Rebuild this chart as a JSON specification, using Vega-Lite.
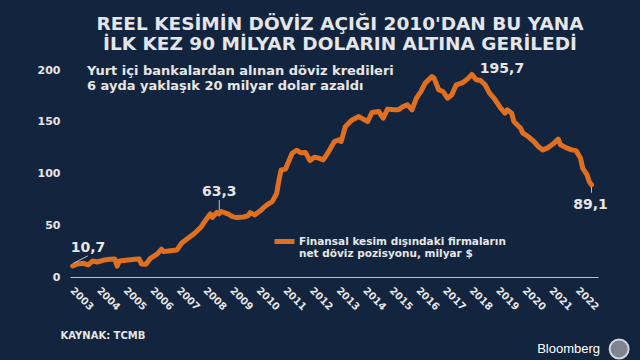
{
  "$schema": "https://vega.github.io/schema/vega-lite/v6.json",
  "width": 528,
  "height": 207,
  "autosize": {"type": "none"},
  "padding": {"left": 70, "top": 70, "right": 42, "bottom": 83},
  "background": "#13243e",
  "config": {"view": {"stroke": null}, "font": "DejaVu Sans", "axis": {"labelOverlap": false, "labelSeparation": 0}},
  "title": {
    "text": ["REEL KESİMİN DÖVİZ AÇIĞI 2010'DAN BU YANA", "İLK KEZ 90 MİLYAR DOLARIN ALTINA GERİLEDİ"],
    "anchor": "middle",
    "frame": "group",
    "fontSize": 18.5,
    "font": "DejaVu Sans",
    "fontWeight": "bold",
    "color": "#e4e6ea",
    "lineHeight": 20.5,
    "offset": 10,
    "dx": 6,
    "dy": 2
  },
  "datasets": {
    "series": [
      {"date": "2002-12-01", "value": 10.7},
      {"date": "2003-02-01", "value": 12.6},
      {"date": "2003-05-01", "value": 13.2},
      {"date": "2003-07-01", "value": 11.6},
      {"date": "2003-09-01", "value": 15.5},
      {"date": "2003-11-01", "value": 14.5},
      {"date": "2004-02-01", "value": 16.4},
      {"date": "2004-05-01", "value": 17.1},
      {"date": "2004-07-01", "value": 17.4},
      {"date": "2004-08-01", "value": 10.5},
      {"date": "2004-09-01", "value": 15.5},
      {"date": "2005-01-01", "value": 16.4},
      {"date": "2005-04-01", "value": 17.1},
      {"date": "2005-06-01", "value": 17.4},
      {"date": "2005-07-01", "value": 12.6},
      {"date": "2005-09-01", "value": 12.3},
      {"date": "2005-11-01", "value": 18.1},
      {"date": "2006-02-01", "value": 22.0},
      {"date": "2006-04-01", "value": 26.8},
      {"date": "2006-05-01", "value": 24.5},
      {"date": "2006-08-01", "value": 25.4},
      {"date": "2006-11-01", "value": 26.1},
      {"date": "2007-01-01", "value": 32.6},
      {"date": "2007-04-01", "value": 37.4},
      {"date": "2007-07-01", "value": 42.3},
      {"date": "2007-10-01", "value": 48.6},
      {"date": "2007-12-01", "value": 55.1},
      {"date": "2008-02-01", "value": 61.0},
      {"date": "2008-03-01", "value": 57.5},
      {"date": "2008-05-01", "value": 62.5},
      {"date": "2008-06-01", "value": 61.0},
      {"date": "2008-07-01", "value": 63.3},
      {"date": "2008-10-01", "value": 60.9},
      {"date": "2008-12-01", "value": 58.3},
      {"date": "2009-02-01", "value": 57.4},
      {"date": "2009-05-01", "value": 58.0},
      {"date": "2009-07-01", "value": 59.0},
      {"date": "2009-08-01", "value": 62.2},
      {"date": "2009-10-01", "value": 60.0},
      {"date": "2010-01-01", "value": 64.8},
      {"date": "2010-02-01", "value": 67.0},
      {"date": "2010-04-01", "value": 70.3},
      {"date": "2010-06-01", "value": 72.8},
      {"date": "2010-08-01", "value": 80.9},
      {"date": "2010-09-01", "value": 93.8},
      {"date": "2010-10-01", "value": 103.5},
      {"date": "2010-12-01", "value": 104.2},
      {"date": "2011-01-01", "value": 110.0},
      {"date": "2011-03-01", "value": 119.6},
      {"date": "2011-05-01", "value": 122.5},
      {"date": "2011-07-01", "value": 120.0},
      {"date": "2011-09-01", "value": 120.2},
      {"date": "2011-11-01", "value": 112.5},
      {"date": "2012-01-01", "value": 115.8},
      {"date": "2012-03-01", "value": 114.8},
      {"date": "2012-05-01", "value": 113.2},
      {"date": "2012-07-01", "value": 119.6},
      {"date": "2012-10-01", "value": 130.9},
      {"date": "2012-12-01", "value": 132.5},
      {"date": "2013-01-01", "value": 130.9},
      {"date": "2013-03-01", "value": 145.4},
      {"date": "2013-06-01", "value": 151.8},
      {"date": "2013-09-01", "value": 155.0},
      {"date": "2013-11-01", "value": 152.5},
      {"date": "2014-01-01", "value": 150.2},
      {"date": "2014-03-01", "value": 158.9},
      {"date": "2014-06-01", "value": 159.9},
      {"date": "2014-08-01", "value": 153.5},
      {"date": "2014-10-01", "value": 162.2},
      {"date": "2015-01-01", "value": 161.5},
      {"date": "2015-03-01", "value": 161.5},
      {"date": "2015-05-01", "value": 164.7},
      {"date": "2015-07-01", "value": 166.3},
      {"date": "2015-09-01", "value": 161.5},
      {"date": "2015-11-01", "value": 172.8},
      {"date": "2016-01-01", "value": 179.2},
      {"date": "2016-03-01", "value": 187.3},
      {"date": "2016-06-01", "value": 193.7},
      {"date": "2016-07-01", "value": 192.2},
      {"date": "2016-09-01", "value": 180.9},
      {"date": "2016-11-01", "value": 179.2},
      {"date": "2017-01-01", "value": 172.8},
      {"date": "2017-03-01", "value": 176.0},
      {"date": "2017-05-01", "value": 185.7},
      {"date": "2017-08-01", "value": 187.9},
      {"date": "2017-10-01", "value": 191.2},
      {"date": "2017-12-01", "value": 195.7},
      {"date": "2018-02-01", "value": 190.5},
      {"date": "2018-04-01", "value": 189.8},
      {"date": "2018-06-01", "value": 185.7},
      {"date": "2018-08-01", "value": 177.7},
      {"date": "2018-10-01", "value": 172.8},
      {"date": "2019-01-01", "value": 163.2},
      {"date": "2019-03-01", "value": 158.3},
      {"date": "2019-04-01", "value": 161.5},
      {"date": "2019-06-01", "value": 158.3},
      {"date": "2019-07-01", "value": 150.2},
      {"date": "2019-10-01", "value": 143.8},
      {"date": "2019-11-01", "value": 139.0},
      {"date": "2020-01-01", "value": 136.4},
      {"date": "2020-04-01", "value": 130.9},
      {"date": "2020-06-01", "value": 126.0},
      {"date": "2020-08-01", "value": 122.8},
      {"date": "2020-10-01", "value": 124.5},
      {"date": "2021-01-01", "value": 129.3},
      {"date": "2021-03-01", "value": 133.2},
      {"date": "2021-04-01", "value": 127.7},
      {"date": "2021-07-01", "value": 124.5},
      {"date": "2021-09-01", "value": 122.8},
      {"date": "2021-11-01", "value": 122.1},
      {"date": "2022-01-01", "value": 114.8},
      {"date": "2022-02-01", "value": 105.1},
      {"date": "2022-04-01", "value": 98.6},
      {"date": "2022-05-01", "value": 92.2},
      {"date": "2022-06-01", "value": 89.1}
    ],
    "notes": [
      {"date": "2002-12-01", "value": 10.7, "label": "10,7"},
      {"date": "2008-07-01", "value": 63.3, "label": "63,3"},
      {"date": "2017-12-01", "value": 195.7, "label": "195,7"},
      {"date": "2022-06-01", "value": 89.1, "label": "89,1"}
    ]
  },
  "layer": [
    {
      "data": {"name": "series"},
      "mark": {"type": "line", "strokeWidth": 5, "strokeCap": "round", "strokeJoin": "round"},
      "encoding": {
        "x": {
          "field": "date",
          "type": "temporal",
          "scale": {"type": "utc", "domain": ["2002-10-24", "2022-08-29"]},
          "axis": {
            "title": "KAYNAK: TCMB",
            "format": "%Y",
            "tickCount": 40,
            "values": [
              {"year": 2003, "utc": true}, {"year": 2004, "utc": true}, {"year": 2005, "utc": true},
              {"year": 2006, "utc": true}, {"year": 2007, "utc": true}, {"year": 2008, "utc": true},
              {"year": 2009, "utc": true}, {"year": 2010, "utc": true}, {"year": 2011, "utc": true},
              {"year": 2012, "utc": true}, {"year": 2013, "utc": true}, {"year": 2014, "utc": true},
              {"year": 2015, "utc": true}, {"year": 2016, "utc": true}, {"year": 2017, "utc": true},
              {"year": 2018, "utc": true}, {"year": 2019, "utc": true}, {"year": 2020, "utc": true},
              {"year": 2021, "utc": true}, {"year": 2022, "utc": true}
            ],
            "labelAngle": 45,
            "labelAlign": "left",
            "labelBaseline": "top",
            "labelPadding": 8,
            "labelFontSize": 10,
            "labelFontWeight": "bold",
            "labelColor": "#e6e6e6",
            "labelOverlap": false,
            "labelFlush": false,
            "ticks": false,
            "grid": false,
            "domainColor": "#b8c0cc",
            "domainWidth": 1,
            "titleAnchor": "start",
            "titleAlign": "left",
            "titleX": -10,
            "titleY": 58,
            "titleBaseline": "middle",
            "titleFontSize": 10,
            "titleFontWeight": "bold",
            "titleColor": "#e6e6e6"
          }
        },
        "y": {
          "field": "value",
          "type": "quantitative",
          "scale": {"domain": [0, 200], "nice": false},
          "axis": {
            "title": null,
            "values": [0, 50, 100, 150, 200],
            "tickCount": 10,
            "domain": false,
            "ticks": false,
            "grid": false,
            "labelFontSize": 11,
            "labelFontWeight": "bold",
            "labelColor": "#e6e6e6",
            "labelPadding": 10
          }
        },
        "color": {
          "datum": "Finansal kesim dışındaki firmaların|net döviz pozisyonu, milyar $",
          "scale": {"range": ["#e0701f"]},
          "legend": {
            "orient": "none",
            "legendX": 202,
            "legendY": 159,
            "title": null,
            "symbolType": "stroke",
            "symbolStrokeWidth": 5,
            "symbolSize": 400,
            "labelExpr": "split(datum.label, '|')",
            "labelFontSize": 10.5,
            "labelFontWeight": "bold",
            "labelColor": "#e6e6e6",
            "labelLimit": 400,
            "labelOffset": 2
          }
        }
      }
    },
    {
      "data": {"name": "notes"},
      "transform": [{"filter": "datum.label == '10,7'"}],
      "mark": {"type": "rule", "color": "#b9c0ca", "strokeWidth": 1, "xOffset": 0.5, "yOffset": -2.6, "x2Offset": 15, "y2Offset": -10},
      "encoding": {
        "x": {"field": "date", "type": "temporal"},
        "x2": {"field": "date"},
        "y": {"field": "value", "type": "quantitative"},
        "y2": {"field": "value"}
      }
    },
    {
      "data": {"name": "notes"},
      "transform": [{"filter": "datum.label == '63,3'"}],
      "mark": {"type": "rule", "color": "#b9c0ca", "strokeWidth": 1, "xOffset": -2, "yOffset": -1.5, "y2Offset": -11.5},
      "encoding": {
        "x": {"field": "date", "type": "temporal"},
        "y": {"field": "value", "type": "quantitative"},
        "y2": {"field": "value"}
      }
    },
    {
      "data": {"name": "notes"},
      "transform": [{"filter": "datum.label == '89,1'"}],
      "mark": {"type": "rule", "color": "#b9c0ca", "strokeWidth": 1, "yOffset": 2, "y2Offset": 8},
      "encoding": {
        "x": {"field": "date", "type": "temporal"},
        "y": {"field": "value", "type": "quantitative"},
        "y2": {"field": "value"}
      }
    },
    {
      "data": {"name": "notes"},
      "transform": [{"filter": "datum.label == '10,7'"}],
      "mark": {"type": "text", "align": "left", "baseline": "alphabetic", "dx": -2, "dy": -14, "fontSize": 14, "fontWeight": "bold", "color": "#e6e6e6"},
      "encoding": {
        "x": {"field": "date", "type": "temporal"},
        "y": {"field": "value", "type": "quantitative"},
        "text": {"field": "label"}
      }
    },
    {
      "data": {"name": "notes"},
      "transform": [{"filter": "datum.label == '63,3'"}],
      "mark": {"type": "text", "align": "center", "baseline": "alphabetic", "dx": -2, "dy": -15.5, "fontSize": 14, "fontWeight": "bold", "color": "#e6e6e6"},
      "encoding": {
        "x": {"field": "date", "type": "temporal"},
        "y": {"field": "value", "type": "quantitative"},
        "text": {"field": "label"}
      }
    },
    {
      "data": {"name": "notes"},
      "transform": [{"filter": "datum.label == '195,7'"}],
      "mark": {"type": "text", "align": "left", "baseline": "alphabetic", "dx": 8, "dy": -1.5, "fontSize": 14, "fontWeight": "bold", "color": "#e6e6e6"},
      "encoding": {
        "x": {"field": "date", "type": "temporal"},
        "y": {"field": "value", "type": "quantitative"},
        "text": {"field": "label"}
      }
    },
    {
      "data": {"name": "notes"},
      "transform": [{"filter": "datum.label == '89,1'"}],
      "mark": {"type": "text", "align": "center", "baseline": "alphabetic", "dx": -1, "dy": 24, "fontSize": 14, "fontWeight": "bold", "color": "#e6e6e6"},
      "encoding": {
        "x": {"field": "date", "type": "temporal"},
        "y": {"field": "value", "type": "quantitative"},
        "text": {"field": "label"}
      }
    },
    {
      "data": {"values": [{}]},
      "mark": {
        "type": "text",
        "text": ["Yurt içi bankalardan alınan döviz kredileri", "6 ayda yaklaşık 20 milyar dolar azaldı"],
        "align": "left",
        "baseline": "alphabetic",
        "dy": 5,
        "lineHeight": 15,
        "fontSize": 13,
        "fontWeight": "bold",
        "color": "#e6e6e6"
      },
      "encoding": {
        "x": {"datum": {"year": 2003, "month": 6, "date": 14, "utc": true}, "type": "temporal"},
        "y": {"datum": 200, "type": "quantitative"}
      }
    },
    {
      "data": {"values": [{}]},
      "mark": {"type": "text", "text": "Bloomberg", "align": "right", "baseline": "middle", "font": "Liberation Sans", "fontSize": 13, "color": "#ffffff"},
      "encoding": {
        "x": {"datum": {"year": 2022, "month": 9, "date": 26, "utc": true}, "type": "temporal"},
        "y": {"datum": -69.6, "type": "quantitative"}
      }
    },
    {
      "data": {"values": [{}]},
      "mark": {"type": "point", "shape": "circle", "size": 360, "filled": true, "fill": "#7d8590", "stroke": "#d0d4da", "strokeWidth": 2, "opacity": 1},
      "encoding": {
        "x": {"datum": {"year": 2023, "month": 6, "date": 15, "utc": true}, "type": "temporal"},
        "y": {"datum": -69.6, "type": "quantitative"}
      }
    }
  ]
}
